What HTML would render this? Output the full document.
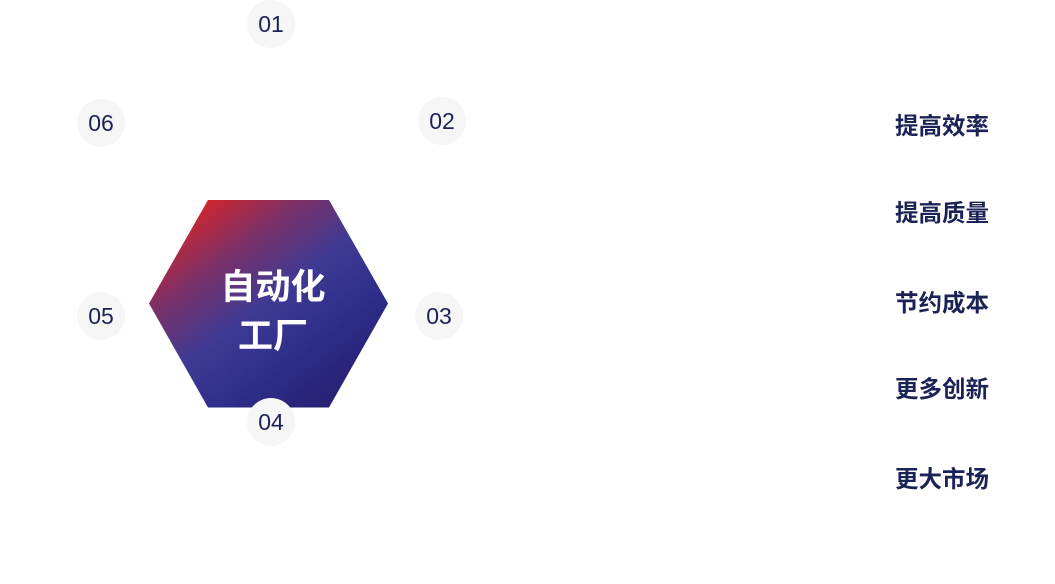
<!DOCTYPE html>
<html><head><meta charset="utf-8"><style>
html,body{margin:0;padding:0;background:#fff;}
body{width:1055px;height:584px;position:relative;overflow:hidden;}
.c{position:absolute;width:48px;height:48px;border-radius:50%;background:#f6f6f7;color:#1b2356;font:23px/48px "Liberation Sans",sans-serif;text-align:center;}
.r{position:absolute;left:895px;width:110px;height:30px;line-height:30px;font-family:"Liberation Sans","Noto Sans CJK SC",sans-serif;font-weight:bold;font-size:23.5px;color:#1b2356;white-space:nowrap;}
.h{position:absolute;left:173px;width:200px;text-align:center;font-family:"Liberation Sans","Noto Sans CJK SC",sans-serif;font-weight:bold;font-size:35px;color:#fff;height:44px;line-height:44px;}
</style></head><body>
<svg width="1055" height="584" style="position:absolute;left:0;top:0">
<defs>
<linearGradient id="g" gradientUnits="userSpaceOnUse" x1="205" y1="198" x2="365" y2="410">
<stop offset="0" stop-color="#d4252a"/>
<stop offset="0.22" stop-color="#7c3067"/>
<stop offset="0.45" stop-color="#3e3a94"/>
<stop offset="0.7" stop-color="#2c2c88"/>
<stop offset="1" stop-color="#271a68"/>
</linearGradient>
</defs>
<polygon points="208,200 329,200 388,303.5 329,407.5 208,407.5 149,303.5" fill="url(#g)"/>
</svg>
<div class="h" style="top:266px">自动化</div>
<div class="h" style="top:315px">工厂</div>
<div class="c" style="left:247px;top:0px">01</div>
<div class="c" style="left:418px;top:97px">02</div>
<div class="c" style="left:415px;top:292px">03</div>
<div class="c" style="left:247px;top:398px">04</div>
<div class="c" style="left:77px;top:292px">05</div>
<div class="c" style="left:77px;top:99px">06</div>
<div class="r" style="top:111px">提高效率</div>
<div class="r" style="top:198px">提高质量</div>
<div class="r" style="top:288px">节约成本</div>
<div class="r" style="top:374px">更多创新</div>
<div class="r" style="top:464px">更大市场</div>
</body></html>
